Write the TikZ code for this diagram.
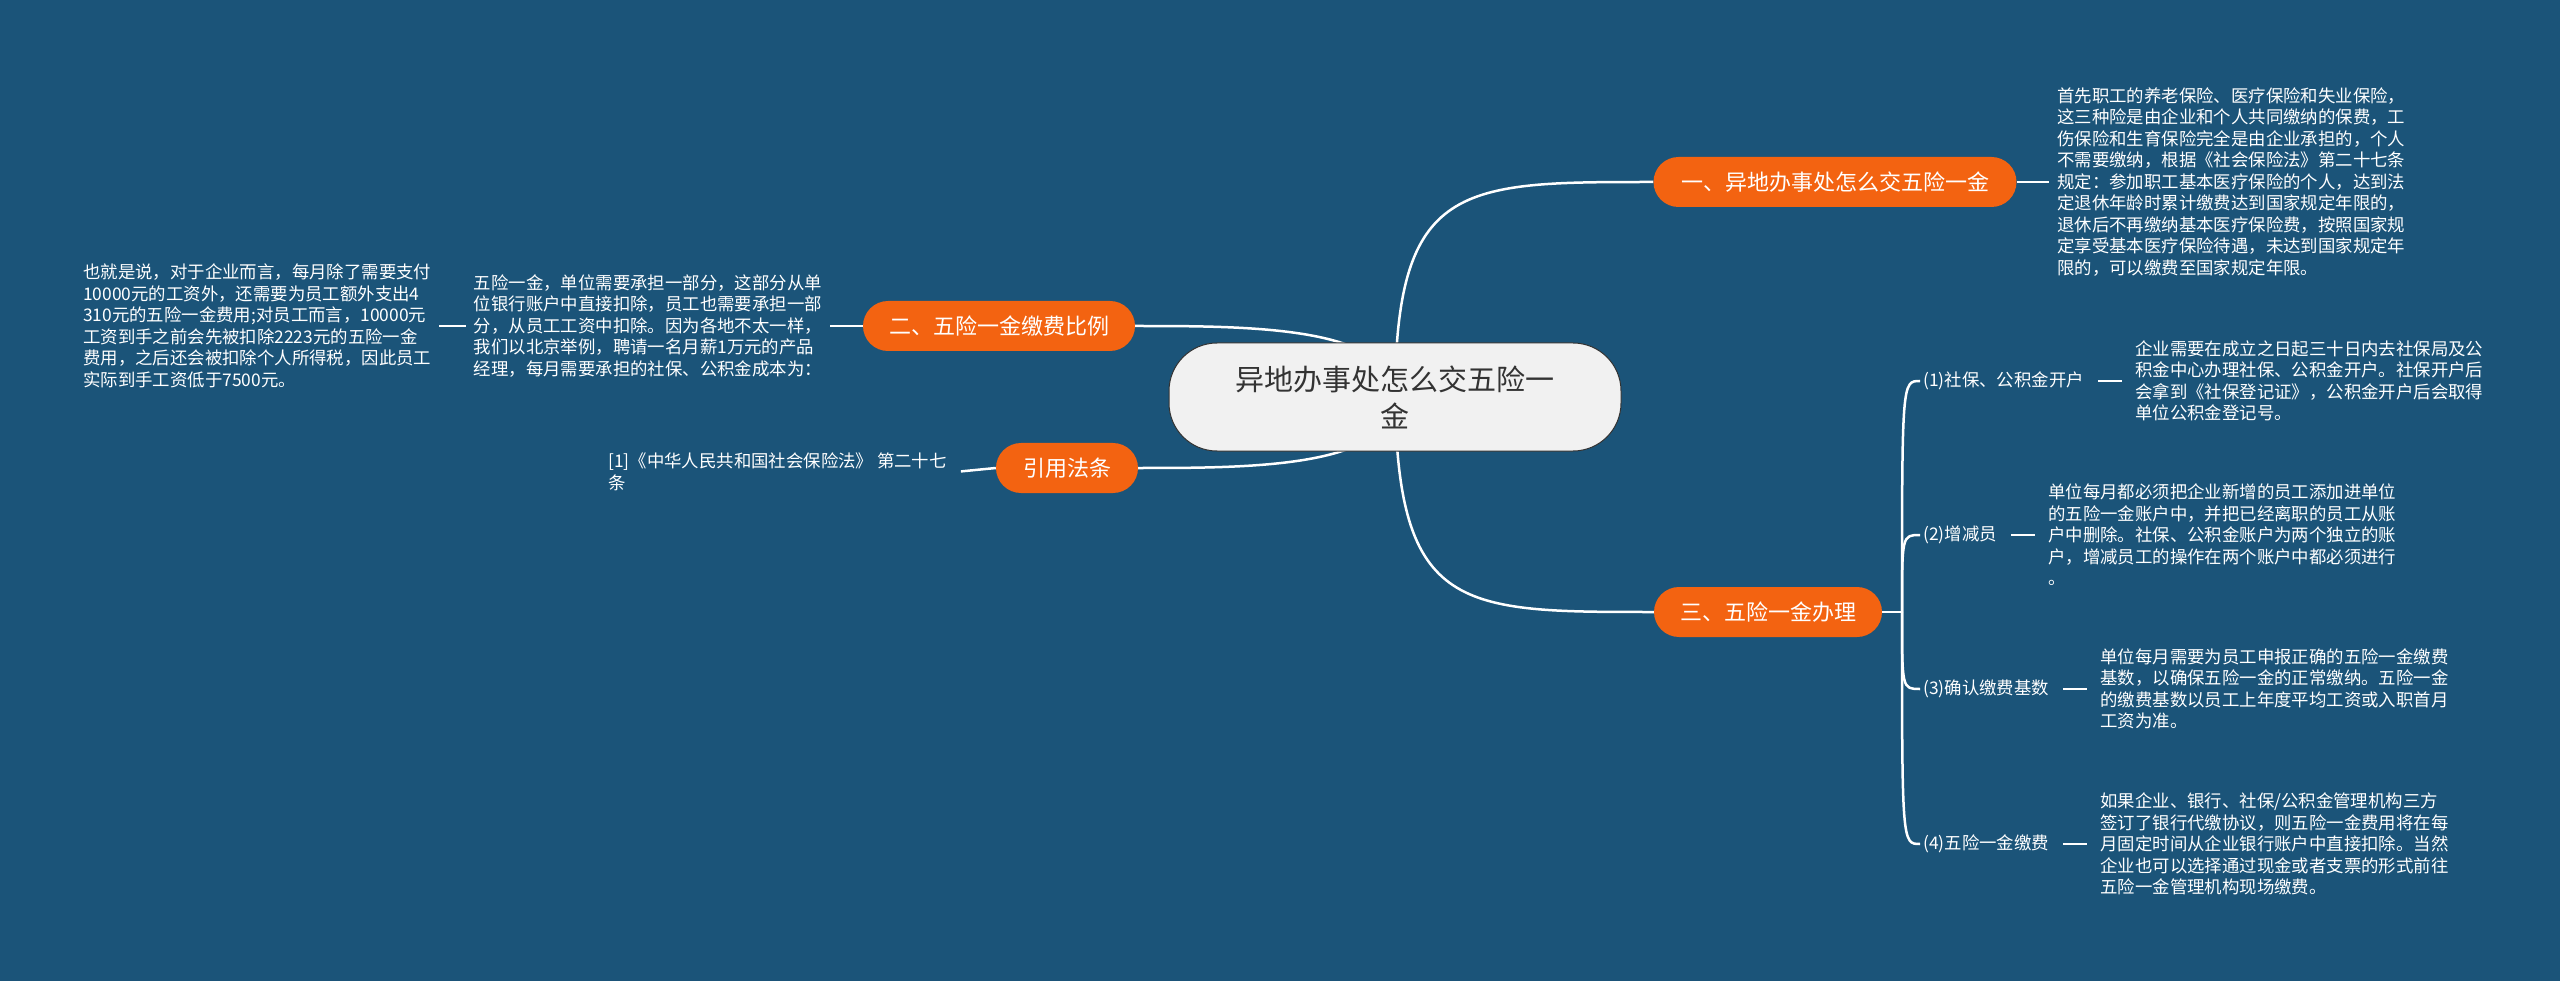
\documentclass[tikz,border=0pt]{standalone}
\usepackage{fontspec}
\newfontfamily\cjk{Noto Sans CJK SC}
\usetikzlibrary{backgrounds,positioning}
\definecolor{bgblue}{RGB}{27,84,121}
\definecolor{branchorange}{RGB}{243,99,17}
\definecolor{rootgray}{RGB}{241,241,241}
\definecolor{darktext}{RGB}{51,51,51}
\tikzset{
  link/.style={white, line width=2.5pt},
  rootbox/.style={draw=darktext, line width=1pt, fill=rootgray, text=darktext,
    rounded corners=48pt, minimum width=452pt, minimum height=108pt, align=center,
    font=\cjk\fontsize{29}{37}\selectfont},
  branchbox/.style={fill=branchorange, text=white, rounded corners=25pt,
    minimum height=50pt, inner xsep=0pt, font=\cjk\fontsize{22}{26}\selectfont},
  note/.style={text=white, align=left, inner xsep=8pt, inner ysep=2pt,
    font=\cjk\fontsize{17.4}{21.5}\selectfont},
  sublabel/.style={text=white, inner xsep=8pt, inner ysep=2pt,
    font=\cjk\fontsize{17.4}{21.5}\selectfont}
}
\begin{document}
\begin{tikzpicture}[x=1pt,y=-1pt]
  \useasboundingbox (0,0) rectangle (2560,981);

  % root and main branches
  \node[rootbox] (root) at (1395,397) {异地办事处怎么交五险一\\金};
  \node[branchbox, minimum width=363pt] (b1) at (1835,182) {一、异地办事处怎么交五险一金};
  \node[branchbox, minimum width=272pt] (b2) at (999,326) {二、五险一金缴费比例};
  \node[branchbox, minimum width=142pt] (b3) at (1067,468) {引用法条};
  \node[branchbox, minimum width=228pt] (b4) at (1768,612) {三、五险一金办理};

  % notes
  \node[note, anchor=west] (n1) at (2049,182) {首先职工的养老保险、医疗保险和失业保险，\\这三种险是由企业和个人共同缴纳的保费，工\\伤保险和生育保险完全是由企业承担的，个人\\不需要缴纳，根据《社会保险法》第二十七条\\规定：参加职工基本医疗保险的个人，达到法\\定退休年龄时累计缴费达到国家规定年限的，\\退休后不再缴纳基本医疗保险费，按照国家规\\定享受基本医疗保险待遇，未达到国家规定年\\限的，可以缴费至国家规定年限。};
  \node[note, anchor=east] (n2) at (830,326) {五险一金，单位需要承担一部分，这部分从单\\位银行账户中直接扣除，员工也需要承担一部\\分，从员工工资中扣除。因为各地不太一样，\\我们以北京举例，聘请一名月薪1万元的产品\\经理，每月需要承担的社保、公积金成本为：};
  \node[note, anchor=west] (n2b) at (75,326) {也就是说，对于企业而言，每月除了需要支付\\10000元的工资外，还需要为员工额外支出4\\310元的五险一金费用;对员工而言，10000元\\工资到手之前会先被扣除2223元的五险一金\\费用，之后还会被扣除个人所得税，因此员工\\实际到手工资低于7500元。};
  \node[note, anchor=west] (n3) at (600,472) {[1]《中华人民共和国社会保险法》 第二十七\\条};

  % sub items of branch three
  \coordinate (fork) at (1902,612);
  \node[sublabel, anchor=west] (s1) at (1915,381) {(1)社保、公积金开户};
  \node[sublabel, anchor=west] (s2) at (1915,535) {(2)增减员};
  \node[sublabel, anchor=west] (s3) at (1915,689) {(3)确认缴费基数};
  \node[sublabel, anchor=west] (s4) at (1915,844) {(4)五险一金缴费};
  \node[note, right=35pt of s1] (d1) {企业需要在成立之日起三十日内去社保局及公\\积金中心办理社保、公积金开户。社保开户后\\会拿到《社保登记证》，公积金开户后会取得\\单位公积金登记号。};
  \node[note, right=35pt of s2] (d2) {单位每月都必须把企业新增的员工添加进单位\\的五险一金账户中，并把已经离职的员工从账\\户中删除。社保、公积金账户为两个独立的账\\户，增减员工的操作在两个账户中都必须进行\\。};
  \node[note, right=35pt of s3] (d3) {单位每月需要为员工申报正确的五险一金缴费\\基数，以确保五险一金的正常缴纳。五险一金\\的缴费基数以员工上年度平均工资或入职首月\\工资为准。};
  \node[note, right=35pt of s4] (d4) {如果企业、银行、社保/公积金管理机构三方\\签订了银行代缴协议，则五险一金费用将在每\\月固定时间从企业银行账户中直接扣除。当然\\企业也可以选择通过现金或者支票的形式前往\\五险一金管理机构现场缴费。};

  \begin{pgfonlayer}{background}
    \fill[bgblue] (0,0) rectangle (2560,981);
    % curves from the root
    \draw[link] (root.center) .. controls (1396,182) and (1460,182) .. (b1.west);
    \draw[link] (root.center) .. controls (1398,612) and (1460,612) .. (b4.west);
    \draw[link] (root.center) .. controls (1395,326) and (1250,326) .. (b2.east);
    \draw[link] (root.center) .. controls (1395,468) and (1250,468) .. (b3.east);
    % short links
    \draw[link] (b1.east) -- (n1.west);
    \draw[link] (b2.west) -- (n2.east);
    \draw[link] (n2.west) -- (n2b.east);
    \draw[link, shorten <=6pt] (n3.east) -- (b3.west);
    \draw[link] (b4.east) -- (fork);
    \foreach \s in {s1,s2,s3,s4}{
      \draw[link] (fork) .. controls (fork |- \s.west) and (fork |- \s.west) .. ([xshift=5pt]\s.west);
    }
    \foreach \s/\d in {s1/d1,s2/d2,s3/d3,s4/d4}{
      \draw[link, shorten <=6pt, shorten >=5pt] (\s.east) -- (\d.west);
    }
  \end{pgfonlayer}
\end{tikzpicture}
\end{document}
